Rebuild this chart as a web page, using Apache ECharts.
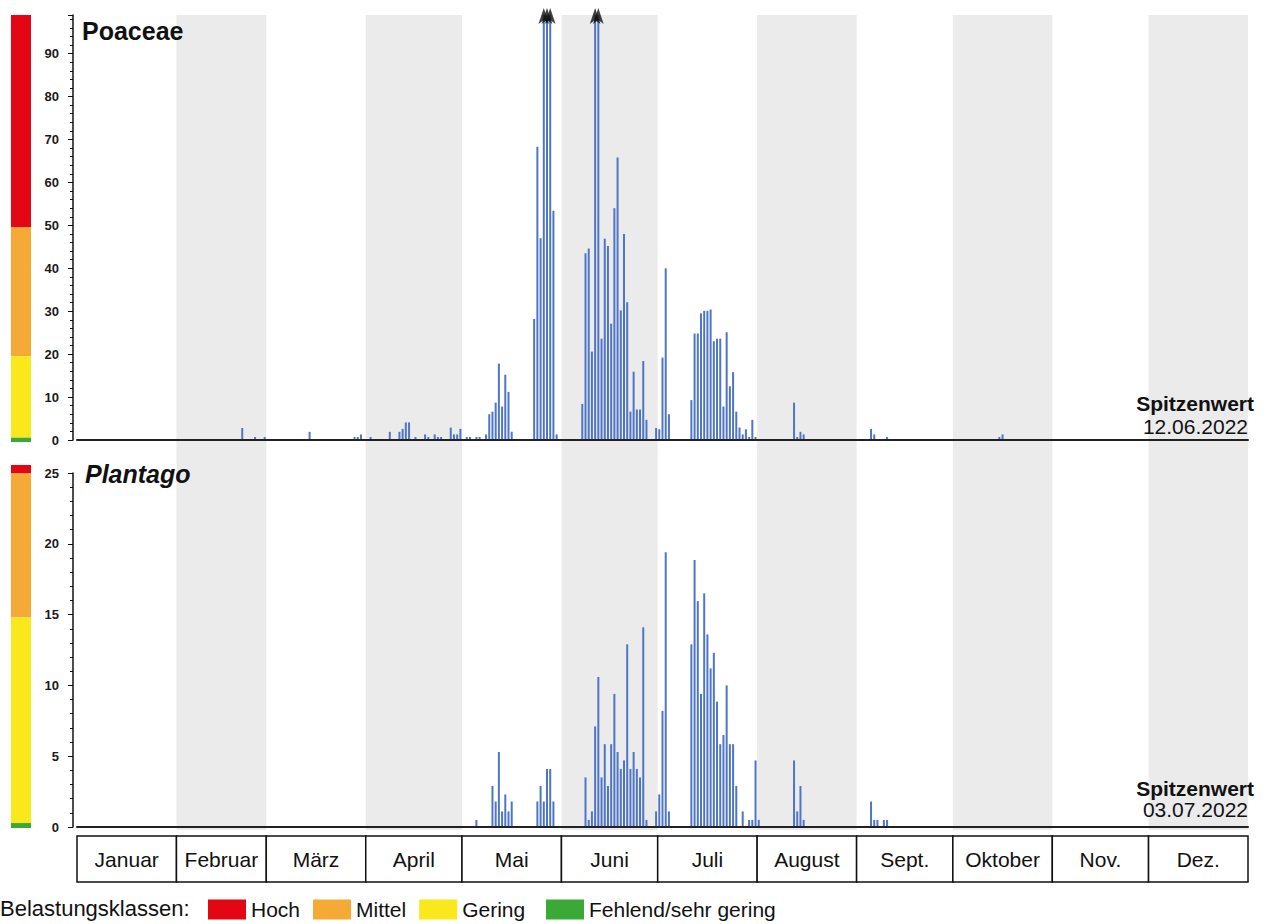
<!DOCTYPE html>
<html><head><meta charset="utf-8">
<script src="https://cdn.jsdelivr.net/npm/echarts@6/dist/echarts.min.js"></script>
<style>html,body{margin:0;padding:0;background:#fff}#c{width:1268px;height:924px}</style>
</head><body><div id="c"></div>
<script>
// ---------- data ----------
const year = 2022;
const monthNames = ['Januar','Februar','März','April','Mai','Juni','Juli','August','Sept.','Oktober','Nov.','Dez.'];
const monthLengths = [31,28,31,30,31,30,31,31,30,31,30,31];
const shadedMonths = [1,3,5,7,9,11];

// day of year (0 = 1 Jan) and daily values
const poaceaeDays = [51,55,58,72,86,87,88,91,97,100,101,102,103,105,108,109,111,112,113,116,117,118,119,121,122,124,125,127,128,129,130,131,132,133,134,135,142,143,144,145,146,147,148,149,157,158,159,160,161,162,163,164,165,166,167,168,169,170,171,172,173,174,175,176,177,180,181,182,183,184,191,192,193,194,195,196,197,198,199,200,201,202,203,204,205,206,207,208,209,210,211,223,224,225,226,247,248,252,287,288];
const poaceaeValues = [2.8,0.7,0.7,1.9,0.7,0.7,1.3,0.7,1.9,1.9,2.6,4.1,4.1,0.7,1.3,0.7,1.3,0.7,0.7,2.9,1.3,1.3,2.6,0.7,0.7,0.7,0.7,1.3,6.0,6.6,8.7,17.8,7.8,15.2,11.2,1.9,28.2,68.3,47.0,120,140,110,53.4,1.3,8.4,43.5,44.6,20.6,130,180,23.6,46.9,45.2,27.1,54.0,65.8,30.2,48.0,32.1,6.6,15.9,7.1,7.1,18.4,4.7,2.8,2.5,19.2,40.0,6.0,9.3,24.8,24.8,29.5,30.1,30.1,30.4,23.0,23.6,23.6,7.8,25.1,12.5,15.8,6.6,2.9,1.3,2.5,0.7,4.7,0.7,8.7,0.7,1.9,1.3,2.6,1.3,0.7,0.7,1.3];
const plantagoDays = [124,129,130,131,132,133,134,135,143,144,145,146,147,148,158,159,160,161,162,163,164,165,166,167,168,169,170,171,172,173,174,175,176,177,180,181,182,183,184,191,192,193,194,195,196,197,198,199,200,201,202,203,204,205,207,209,210,211,212,223,224,225,226,247,248,249,251,252];
const plantagoValues = [0.5,2.9,1.8,5.3,1.1,2.3,1.1,1.8,1.8,2.9,1.8,4.1,4.1,1.8,3.5,0.5,1.1,7.1,10.6,3.5,5.85,2.9,5.85,9.4,5.3,4.1,4.7,12.9,4.1,5.3,4.1,3.5,14.1,0.5,1.1,2.3,8.2,19.4,1.1,12.9,18.85,15.95,9.4,16.5,13.6,11.2,12.3,8.85,5.85,6.5,10.0,5.85,5.85,2.9,1.1,0.5,0.5,4.7,0.5,4.7,1.1,2.9,0.5,1.8,0.5,0.5,0.5,0.5];

// axes
const poaceaeAxis = {min: 0, max: 99, interval: 10};
const plantagoAxis = {min: 0, max: 25, interval: 5};

// load classes (top to bottom) and their edges on each scale
const classNames = ['Hoch','Mittel','Gering','Fehlend/sehr gering'];
const classColors = ['#e30613','#f6aa36','#f8e81c','#3aa935'];
const poaceaeClassEdges = [99, 49.5, 19.5, 0.5, -0.5];
const plantagoClassEdges = [25.6, 25, 14.8, 0.25, -0.1];

// ---------- helpers ----------
const DAYS = monthLengths.reduce((a, b) => a + b, 0);
const monthStarts = [];
monthLengths.reduce((acc, l) => { monthStarts.push(acc); return acc + l; }, 0);
function fmt(d) {
  return String(d.getUTCDate()).padStart(2, '0') + '.' + String(d.getUTCMonth() + 1).padStart(2, '0') + '.' + d.getUTCFullYear();
}
const dayLabels = Array.from({length: DAYS}, (_, i) => fmt(new Date(Date.UTC(year, 0, 1 + i))));
function fullSeries(days, values) {
  const arr = new Array(DAYS).fill(null);
  days.forEach((d, i) => { arr[d] = values[i]; });
  return arr;
}
function peakLabel(days, values) {
  let m = 0;
  values.forEach((v, i) => { if (v > values[m]) m = i; });
  return dayLabels[days[m]];
}
function clipped(days, values, max) {
  return days.map((d, i) => values[i] > max ? [d, max] : null).filter(Boolean);
}

const FONT = 'Liberation Sans';
const BAR = '#4f76c6';
const INK = '#111';

function valueAxis(grid, ax) {
  return {
    gridIndex: grid, type: 'value', min: ax.min, max: ax.max, interval: ax.interval,
    offset: 4, z: 5,
    axisLine: {show: true, lineStyle: {color: INK, width: 1.5}},
    axisTick: {show: true, length: 5, lineStyle: {color: INK, width: 1}},
    minorTick: {show: true, splitNumber: 5, length: 3, lineStyle: {color: INK, width: 1}},
    splitLine: {show: false},
    axisLabel: {margin: 14, fontSize: 13, fontWeight: 'bold', color: '#1a1a1a', fontFamily: FONT,
                showMaxLabel: ax.max % ax.interval === 0}
  };
}
function dayAxis(grid) {
  return {
    gridIndex: grid, type: 'category', data: dayLabels, boundaryGap: true, z: 5,
    axisLine: {show: true, lineStyle: {color: '#222', width: 2}},
    axisTick: {show: false}, axisLabel: {show: false}, splitLine: {show: false}
  };
}

const series = [];
// month shading (background)
series.push({
  type: 'bar', xAxisIndex: 0, yAxisIndex: 0, data: [], silent: true,
  markArea: {
    silent: true, itemStyle: {color: '#ebebeb'},
    data: shadedMonths.map(m => [{xAxis: monthStarts[m]}, {xAxis: monthStarts[m] + monthLengths[m]}])
  }
});
// month boxes
series.push({
  type: 'bar', xAxisIndex: 5, yAxisIndex: 5, data: [], silent: true,
  markArea: {
    silent: true,
    itemStyle: {color: '#fff', borderColor: INK, borderWidth: 1.5},
    label: {show: true, position: 'inside', fontSize: 21, color: INK, fontFamily: FONT},
    data: monthNames.map((n, m) => [{name: n, xAxis: monthStarts[m]}, {xAxis: monthStarts[m] + monthLengths[m]}])
  }
});
// pollen bars
series.push({type: 'bar', name: 'Poaceae', xAxisIndex: 1, yAxisIndex: 1, data: fullSeries(poaceaeDays, poaceaeValues), barWidth: 2, itemStyle: {color: BAR}, silent: true, z: 2});
series.push({type: 'bar', name: 'Plantago', xAxisIndex: 2, yAxisIndex: 2, data: fullSeries(plantagoDays, plantagoValues), barWidth: 2, itemStyle: {color: BAR}, silent: true, z: 2});
// arrows for values above the axis
series.push({type: 'scatter', xAxisIndex: 1, yAxisIndex: 1, data: clipped(poaceaeDays, poaceaeValues, poaceaeAxis.max), symbol: 'arrow', symbolSize: [8, 16], symbolOffset: [0, -7], itemStyle: {color: INK}, clip: false, silent: true, z: 6});
series.push({type: 'scatter', xAxisIndex: 2, yAxisIndex: 2, data: clipped(plantagoDays, plantagoValues, plantagoAxis.max), symbol: 'arrow', symbolSize: [8, 16], symbolOffset: [0, -7], itemStyle: {color: INK}, clip: false, silent: true, z: 6});
// class colour scales
[[3, poaceaeClassEdges], [4, plantagoClassEdges]].forEach(([g, edges]) => {
  classNames.forEach((name, k) => {
    series.push({
      type: 'bar', name: name, xAxisIndex: g, yAxisIndex: g, data: [], silent: true,
      itemStyle: {color: classColors[k]},
      markArea: {silent: true, itemStyle: {color: classColors[k]}, data: [[{yAxis: edges[k + 1]}, {yAxis: edges[k]}]]}
    });
  });
});

const legendBase = {
  top: 899, padding: 0, itemWidth: 38, itemHeight: 20, itemGap: 13, icon: 'rect',
  selectedMode: false, textStyle: {fontSize: 21, color: INK, fontFamily: FONT}
};

const option = {
  animation: false,
  textStyle: {fontFamily: FONT},
  grid: [
    {left: 77, right: 20, top: 15, height: 815},
    {left: 77, right: 20, top: 15, height: 425},
    {left: 77, right: 20, top: 473, height: 354},
    {left: 11, width: 20, top: 15, height: 427},
    {left: 11, width: 20, top: 465, height: 363},
    {left: 77, right: 20, top: 836, height: 46}
  ],
  xAxis: [
    {gridIndex: 0, type: 'value', min: 0, max: DAYS, show: false},
    dayAxis(1),
    dayAxis(2),
    {gridIndex: 3, type: 'category', data: ['k'], show: false},
    {gridIndex: 4, type: 'category', data: ['k'], show: false},
    {gridIndex: 5, type: 'value', min: 0, max: DAYS, show: false}
  ],
  yAxis: [
    {gridIndex: 0, type: 'value', min: 0, max: 1, show: false},
    valueAxis(1, poaceaeAxis),
    valueAxis(2, plantagoAxis),
    {gridIndex: 3, type: 'value', min: poaceaeClassEdges[4], max: poaceaeClassEdges[0], show: false},
    {gridIndex: 4, type: 'value', min: plantagoClassEdges[4], max: plantagoClassEdges[0], show: false},
    {gridIndex: 5, type: 'value', min: 0, max: 1, show: false}
  ],
  title: [
    {text: 'Poaceae', left: 82, top: 18, padding: 0, textStyle: {fontSize: 25, fontWeight: 'bold', color: INK, fontFamily: FONT}},
    {text: 'Plantago', left: 85, top: 461, padding: 0, textStyle: {fontSize: 25, fontWeight: 'bold', fontStyle: 'italic', color: INK, fontFamily: FONT}},
    {text: 'Spitzenwert', right: 14, top: 393, padding: 0, textStyle: {fontSize: 21, fontWeight: 'bold', color: INK, fontFamily: FONT}},
    {text: peakLabel(poaceaeDays, poaceaeValues), right: 20, top: 416, padding: 0, textStyle: {fontSize: 21, fontWeight: 'normal', color: INK, fontFamily: FONT}},
    {text: 'Spitzenwert', right: 14, top: 778, padding: 0, textStyle: {fontSize: 21, fontWeight: 'bold', color: INK, fontFamily: FONT}},
    {text: peakLabel(plantagoDays, plantagoValues), right: 20, top: 799, padding: 0, textStyle: {fontSize: 21, fontWeight: 'normal', color: INK, fontFamily: FONT}}
  ],
  legend: [
    Object.assign({}, legendBase, {left: 208, data: classNames.slice(0, 3)}),
    Object.assign({}, legendBase, {left: 546, data: classNames.slice(3)})
  ],
  graphic: [
    {type: 'text', left: 0, top: 897, style: {text: 'Belastungsklassen:', fontSize: 22, fill: INK, fontFamily: FONT}}
  ],
  series: series
};

const chart = echarts.init(document.getElementById('c'), null, {renderer: 'svg'});
chart.setOption(option);
</script>
</body></html>
